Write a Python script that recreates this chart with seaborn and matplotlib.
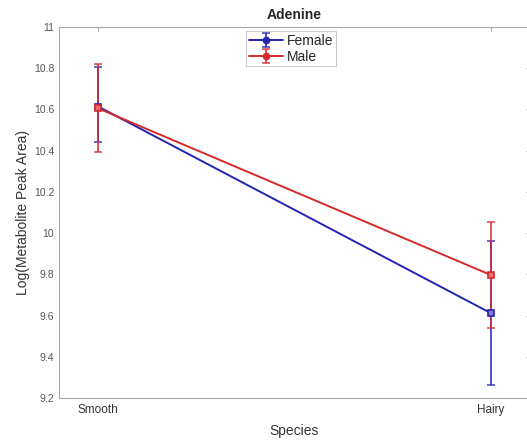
import matplotlib
matplotlib.use("Agg")
import matplotlib.pyplot as plt
from matplotlib.lines import Line2D
import seaborn as sns
import pandas as pd
import numpy as np

species = ["Smooth", "Hairy"]
groups = ["Female", "Male"]
female_mean = [10.614, 9.612]
female_upper = [10.805, 9.960]
female_lower = [10.440, 9.265]
male_mean = [10.605, 9.797]
male_upper = [10.822, 10.053]
male_lower = [10.392, 9.542]
yticks = [9.2, 9.4, 9.6, 9.8, 10, 10.2, 10.4, 10.6, 10.8, 11]
ytick_labels = ["9.2", "9.4", "9.6", "9.8", "10", "10.2", "10.4", "10.6", "10.8", "11"]

sns.set_theme(style="white")
plt.rcParams["font.family"] = ["Liberation Sans", "DejaVu Sans"]

fig = plt.figure(figsize=(5.27, 4.43), dpi=100)
ax = fig.add_axes([59/527, 45/443, 471/527, 371/443])

xpos = [1, 2]
df = pd.DataFrame({
    "x": xpos * 2,
    "value": female_mean + male_mean,
    "group": ["Female"] * 2 + ["Male"] * 2,
})
colors = {"Female": "#2424b4", "Male": "#d42a2a"}
faces = {"Female": "#8a7ad0", "Male": "#e87070"}

sns.lineplot(data=df, x="x", y="value", hue="group", palette=colors, ax=ax,
             legend=False, linewidth=1.4, sort=False)

handles = []
for g, m, up, lo in [("Female", female_mean, female_upper, female_lower),
                     ("Male", male_mean, male_upper, male_lower)]:
    m = np.array(m); up = np.array(up); lo = np.array(lo)
    c = colors[g]
    h = ax.errorbar(xpos, m, yerr=[m - lo, up - m], fmt="none",
                    ecolor=c, elinewidth=1.4, capsize=3, capthick=1.2,
                    alpha=0.8, zorder=3)
    proxy = Line2D([], [], color=c, marker="o", markersize=4.5, linewidth=1.4)
    handles.append((h, proxy))

for g, m in [("Female", female_mean), ("Male", male_mean)]:
    ax.plot(xpos, m, linestyle="none", marker="s", markersize=5,
            markeredgecolor=colors[g], markerfacecolor=faces[g],
            markeredgewidth=1.2, zorder=5)

ax.set_xlim(0.9, 2.1)
ax.set_ylim(9.2, 11)
ax.set_xticks(xpos)
ax.set_xticklabels(species)
ax.set_yticks(yticks)
ax.set_yticklabels(ytick_labels)
ax.tick_params(axis="both", direction="in", length=3, color="#999999",
               labelsize=7.5, labelcolor="#555555", top=True, right=True,
               width=0.6)
ax.tick_params(axis="x", labelsize=8.5, pad=4, labelcolor="#333333")
for s in ax.spines.values():
    s.set_color("#aaaaaa")
    s.set_linewidth(0.8)
    s.set_visible(True)

ax.set_xlabel("Species", fontsize=10, color="#333333", labelpad=6)
ax.set_ylabel("Log(Metabolite Peak Area)", fontsize=10, color="#333333", labelpad=3)
ax.set_title("Adenine", fontsize=10, fontweight="bold", pad=6)

leg = ax.legend(handles=handles, labels=groups, loc="upper left",
                bbox_to_anchor=(0.398, 0.988), fontsize=10, frameon=True,
                fancybox=False, edgecolor="#bbbbbb", handlelength=2.4,
                borderpad=0.2, labelspacing=0.1, handletextpad=0.3,
                borderaxespad=0)
leg.get_frame().set_linewidth(0.8)

fig.savefig("out.png", dpi=100)
